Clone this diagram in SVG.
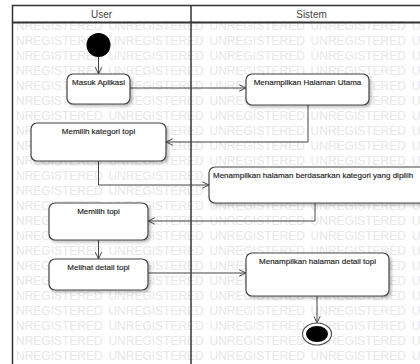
<svg xmlns="http://www.w3.org/2000/svg" width="420" height="364" viewBox="0 0 420 364">
<defs>
<style>
.wm{font-family:"Liberation Sans",Arial,sans-serif;font-size:12px;fill:#e7e7e7;word-spacing:2.4px}
.hd{font-family:"Liberation Sans",Arial,sans-serif;font-size:10px;fill:#444;text-anchor:middle}
.box{fill:#fff;stroke:#444;stroke-width:1.2}
.lbl{font-family:"Liberation Sans",Arial,sans-serif;font-size:8px;fill:#222;text-anchor:middle;stroke:#222;stroke-width:0.15}
.frame{fill:none;stroke:#333;stroke-width:1.5}
.con{fill:none;stroke:#444;stroke-width:1}
</style>
<filter id="sh" x="-10%" y="-10%" width="130%" height="140%">
<feDropShadow dx="2" dy="2" stdDeviation="1.5" flood-color="#000" flood-opacity="0.25"/>
</filter>
<marker id="arr" viewBox="0 0 10 10" refX="9.5" refY="5" markerWidth="8" markerHeight="8" markerUnits="userSpaceOnUse" orient="auto">
<path d="M1,1 L9.5,5 L1,9" fill="none" stroke="#444" stroke-width="1.2"/>
</marker>
</defs>
<rect x="0" y="0" width="420" height="364" fill="#fff"/>
<g id="watermark">
<text class="wm" x="16" y="30">NREGISTERED UNREGISTERED UNREGISTERED UNREGISTERED U</text>
<text class="wm" x="16" y="45">NREGISTERED UNREGISTERED UNREGISTERED UNREGISTERED U</text>
<text class="wm" x="16" y="60">NREGISTERED UNREGISTERED UNREGISTERED UNREGISTERED U</text>
<text class="wm" x="16" y="75">NREGISTERED UNREGISTERED UNREGISTERED UNREGISTERED U</text>
<text class="wm" x="16" y="90">NREGISTERED UNREGISTERED UNREGISTERED UNREGISTERED U</text>
<text class="wm" x="16" y="105">NREGISTERED UNREGISTERED UNREGISTERED UNREGISTERED U</text>
<text class="wm" x="16" y="120">NREGISTERED UNREGISTERED UNREGISTERED UNREGISTERED U</text>
<text class="wm" x="16" y="135">NREGISTERED UNREGISTERED UNREGISTERED UNREGISTERED U</text>
<text class="wm" x="16" y="150">NREGISTERED UNREGISTERED UNREGISTERED UNREGISTERED U</text>
<text class="wm" x="16" y="165">NREGISTERED UNREGISTERED UNREGISTERED UNREGISTERED U</text>
<text class="wm" x="16" y="180">NREGISTERED UNREGISTERED UNREGISTERED UNREGISTERED U</text>
<text class="wm" x="16" y="195">NREGISTERED UNREGISTERED UNREGISTERED UNREGISTERED U</text>
<text class="wm" x="16" y="210">NREGISTERED UNREGISTERED UNREGISTERED UNREGISTERED U</text>
<text class="wm" x="16" y="225">NREGISTERED UNREGISTERED UNREGISTERED UNREGISTERED U</text>
<text class="wm" x="16" y="240">NREGISTERED UNREGISTERED UNREGISTERED UNREGISTERED U</text>
<text class="wm" x="16" y="255">NREGISTERED UNREGISTERED UNREGISTERED UNREGISTERED U</text>
<text class="wm" x="16" y="270">NREGISTERED UNREGISTERED UNREGISTERED UNREGISTERED U</text>
<text class="wm" x="16" y="285">NREGISTERED UNREGISTERED UNREGISTERED UNREGISTERED U</text>
<text class="wm" x="16" y="300">NREGISTERED UNREGISTERED UNREGISTERED UNREGISTERED U</text>
<text class="wm" x="16" y="315">NREGISTERED UNREGISTERED UNREGISTERED UNREGISTERED U</text>
<text class="wm" x="16" y="330">NREGISTERED UNREGISTERED UNREGISTERED UNREGISTERED U</text>
<text class="wm" x="16" y="345">NREGISTERED UNREGISTERED UNREGISTERED UNREGISTERED U</text>
<text class="wm" x="16" y="360">NREGISTERED UNREGISTERED UNREGISTERED UNREGISTERED U</text>
</g>
<g id="swimlanes">
<rect class="frame" x="12.5" y="5.5" width="430" height="370"/>
<line x1="12.5" y1="22.5" x2="430" y2="22.5" stroke="#333" stroke-width="2"/>
<line x1="191" y1="5" x2="191" y2="370" stroke="#333" stroke-width="1.5"/>
<text class="hd" x="101.5" y="17.5">User</text>
<text class="hd" x="311.5" y="17.5">Sistem</text>
</g>
<g id="connectors">
<path class="con" d="M98.5,57 L98.5,74" marker-end="url(#arr)"/>
<path class="con" d="M130,88 L246,88" marker-end="url(#arr)"/>
<path class="con" d="M308,105 L308,142 L166,142" marker-end="url(#arr)"/>
<path class="con" d="M98.5,161 L98.5,185 L209,185" marker-end="url(#arr)"/>
<path class="con" d="M315,203 L315,221 L148,221" marker-end="url(#arr)"/>
<path class="con" d="M98.5,240 L98.5,259" marker-end="url(#arr)"/>
<path class="con" d="M148,273 L246,273" marker-end="url(#arr)"/>
<path class="con" d="M317,296 L317,323" marker-end="url(#arr)"/>
</g>
<g id="start">
<circle cx="98.5" cy="45" r="12" fill="#000"/>
</g>
<g id="masuk-aplikasi">
<rect class="box" x="67" y="74" width="63" height="30" rx="6" filter="url(#sh)"/>
<text class="lbl" x="98.5" y="85">Masuk Aplikasi</text>
</g>
<g id="halaman-utama">
<rect class="box" x="246" y="74" width="123" height="31" rx="6" filter="url(#sh)"/>
<text class="lbl" x="307.5" y="85">Menampilkan Halaman Utama</text>
</g>
<g id="memilih-kategori">
<rect class="box" x="31" y="123" width="135" height="38" rx="6" filter="url(#sh)"/>
<text class="lbl" x="98.5" y="134">Memilih kategori topi</text>
</g>
<g id="halaman-kategori">
<rect class="box" x="209" y="167" width="224" height="36" rx="6" filter="url(#sh)"/>
<text class="lbl" x="213" y="178" style="text-anchor:start">Menampilkan halaman berdasarkan kategori yang dipilih</text>
</g>
<g id="memilih-topi">
<rect class="box" x="49" y="203" width="99" height="37" rx="6" filter="url(#sh)"/>
<text class="lbl" x="98.5" y="214">Memilih topi</text>
</g>
<g id="melihat-detail">
<rect class="box" x="49" y="259" width="99" height="31" rx="6" filter="url(#sh)"/>
<text class="lbl" x="98.5" y="270">Melihat detail topi</text>
</g>
<g id="halaman-detail">
<rect class="box" x="246" y="253" width="143" height="43" rx="6" filter="url(#sh)"/>
<text class="lbl" x="317.5" y="264">Menampilkan halaman detail topi</text>
</g>
<g id="end">
<ellipse cx="317" cy="334" rx="14.5" ry="11" fill="#fff" stroke="#555" stroke-width="1.2"/>
<ellipse cx="317" cy="334" rx="11" ry="8" fill="#000"/>
</g>
</svg>
